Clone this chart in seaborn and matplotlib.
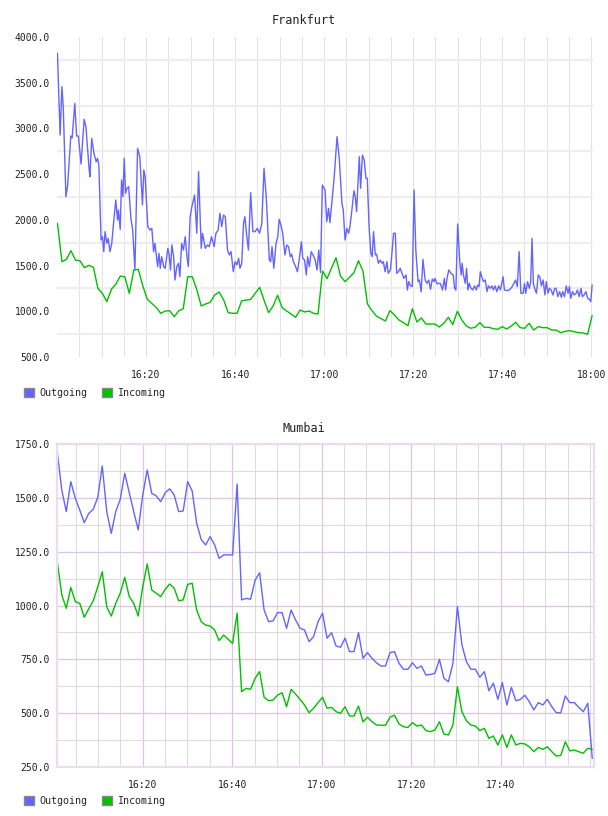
import matplotlib
matplotlib.use('Agg')
import matplotlib.pyplot as plt
import matplotlib.dates as mdates
from matplotlib.patches import Patch
from matplotlib.ticker import FormatStrFormatter
import pandas as pd
import seaborn as sns

# data
day = '2013-05-10 '

# Frankfurt outgoing: minutes after 16:00 and value
fra_out_min = [
    0.1, 0.7, 1.1, 1.4, 2.0, 2.4, 3.1, 3.4, 4.0, 4.4,
    4.8, 5.4, 6.1, 6.5, 7.2, 7.4, 7.8, 8.3, 8.8, 9.1,
    9.4, 9.9, 10.2, 10.5, 10.8, 11.2, 11.5, 11.9, 12.3, 12.7,
    13.2, 13.6, 13.8, 14.2, 14.5, 14.8, 15.1, 15.4, 15.7, 16.1,
    16.6, 17.0, 17.5, 18.1, 18.6, 19.2, 19.5, 19.8, 20.4, 20.9,
    21.3, 21.7, 22.0, 22.6, 22.9, 23.2, 23.5, 24.0, 24.3, 24.9,
    25.2, 25.5, 25.8, 26.2, 26.5, 26.9, 27.3, 27.6, 28.0, 28.4,
    28.8, 29.2, 29.5, 29.9, 30.3, 30.9, 31.4, 31.8, 32.4, 32.7,
    33.3, 33.8, 34.2, 34.7, 35.3, 35.7, 36.2, 36.6, 37.0, 37.4,
    37.8, 38.3, 38.7, 39.1, 39.6, 40.0, 40.4, 40.8, 41.1, 41.5,
    41.9, 42.2, 42.6, 43.0, 43.5, 44.0, 44.5, 45.0, 45.5, 46.0,
    46.5, 47.0, 47.4, 47.7, 48.0, 48.3, 48.7, 49.2, 49.6, 49.9,
    50.3, 50.7, 51.2, 51.6, 52.0, 52.4, 52.7, 53.1, 53.6, 54.0,
    54.4, 54.9, 55.2, 55.6, 56.0, 56.3, 56.7, 57.1, 57.6, 58.0,
    58.4, 58.8, 59.2, 59.6, 60.2, 60.6, 61.0, 61.3, 61.9, 62.3,
    62.9, 63.4, 64.0, 64.3, 64.7, 65.1, 65.5, 65.8, 66.2, 66.7,
    67.0, 67.3, 67.9, 68.2, 68.6, 69.0, 69.4, 69.7, 70.1, 70.5,
    70.8, 71.1, 71.5, 71.8, 72.2, 72.6, 73.0, 73.3, 73.7, 74.1,
    74.4, 74.9, 75.2, 75.6, 76.0, 76.3, 76.7, 77.1, 77.5, 77.9,
    78.4, 78.7, 79.0, 79.4, 79.8, 80.2, 80.6, 81.1, 81.4, 81.8,
    82.2, 82.7, 83.1, 83.5, 83.9, 84.3, 84.7, 84.9, 85.4, 85.8,
    86.1, 86.6, 87.0, 87.3, 87.6, 88.0, 88.5, 89.0, 89.3, 89.6,
    90.0, 90.5, 90.8, 91.0, 91.3, 91.7, 92.0, 92.3, 92.6, 93.0,
    93.4, 93.8, 94.2, 94.5, 94.8, 95.1, 95.4, 95.8, 96.2, 96.6,
    96.9, 97.3, 97.7, 98.0, 98.4, 98.8, 99.2, 99.6, 100.2, 100.5,
    101.1, 101.6, 102.1, 102.5, 103.0, 103.4, 103.8, 104.2, 104.7, 105.0,
    105.3, 105.7, 106.1, 106.4, 106.7, 107.0, 107.4, 107.7, 108.1, 108.5,
    108.8, 109.2, 109.6, 109.9, 110.3, 110.6, 111.0, 111.4, 111.8, 112.1,
    112.5, 112.9, 113.3, 113.6, 114.0, 114.4, 114.8, 115.1, 115.4, 115.8,
    116.2, 116.6, 116.9, 117.3, 117.7, 118.0, 118.4, 118.8, 119.2, 119.6,
    119.9, 120.2]
fra_out = [
    3822, 2928, 3457, 3238, 2253, 2381, 2917, 2896, 3274, 2917,
    2917, 2611, 3100, 3019, 2564, 2472, 2892, 2728, 2636, 2673,
    2600, 1780, 1816, 1652, 1871, 1743, 1796, 1652, 1743, 1962,
    2217, 1998, 2108, 1896, 2436, 2253, 2673, 2290, 2345, 2363,
    2017, 1889, 1452, 2783, 2691, 2163, 2545, 2472, 1925, 1889,
    1907, 1652, 1743, 1488, 1634, 1470, 1597, 1488, 1470, 1689,
    1616, 1452, 1725, 1597, 1342, 1488, 1525, 1378, 1743, 1670,
    1816, 1597, 1488, 2030, 2144, 2272, 1853, 2527, 1689, 1853,
    1689, 1725, 1707, 1816, 1707, 1853, 1889, 2072, 1925, 2053,
    2035, 1670, 1616, 1652, 1433, 1543, 1507, 1579, 1470, 1525,
    1962, 2035, 1834, 1670, 2297, 1871, 1871, 1907, 1853, 1962,
    2564, 2253, 1871, 1561, 1543, 1707, 1470, 1743, 1816, 2006,
    1944, 1853, 1616, 1725, 1707, 1597, 1625, 1543, 1488, 1433,
    1561, 1761, 1579, 1561, 1397, 1597, 1488, 1652, 1607, 1561,
    1452, 1670, 1425, 2381, 2327, 1980, 2126, 1969, 2272, 2491,
    2910, 2673, 2181, 2108, 1780, 1907, 1853, 1925, 2090, 2319,
    2254, 2090, 2691, 2345, 2709, 2655, 2454, 2454, 1925, 1634,
    1597, 1871, 1616, 1625, 1525, 1561, 1525, 1543, 1433, 1543,
    1415, 1452, 1616, 1853, 1853, 1415, 1433, 1470, 1415, 1360,
    1397, 1233, 1324, 1278, 1270, 2327, 1670, 1324, 1342, 1214,
    1568, 1342, 1306, 1342, 1240, 1353, 1324, 1360, 1298, 1306,
    1306, 1233, 1360, 1233, 1360, 1452, 1415, 1397, 1251, 1233,
    1955, 1525, 1397, 1525, 1397, 1306, 1470, 1233, 1306, 1251,
    1233, 1278, 1233, 1288, 1270, 1433, 1378, 1324, 1342, 1215,
    1278, 1251, 1278, 1233, 1278, 1215, 1278, 1233, 1378, 1233,
    1226, 1233, 1260, 1292, 1342, 1270, 1652, 1197, 1197, 1306,
    1197, 1324, 1251, 1324, 1798, 1306, 1233, 1197, 1397, 1370,
    1278, 1342, 1178, 1324, 1197, 1251, 1233, 1178, 1251, 1251,
    1160, 1215, 1153, 1215, 1160, 1278, 1197, 1270, 1142, 1215,
    1178, 1197, 1233, 1160, 1251, 1160, 1178, 1215, 1142, 1131,
    1105, 1288]

# Frankfurt incoming, one sample per minute
fra_in_first = '16:00:06'
fra_in_last = '18:00:12'
fra_in = [
    1962, 1542, 1568, 1663, 1560, 1553, 1477, 1503, 1481, 1251,
    1196, 1105, 1240, 1298, 1386, 1375, 1196, 1452, 1459, 1277,
    1131, 1087, 1040, 978, 1003, 1006, 941, 1006, 1028, 1378,
    1378, 1240, 1058, 1080, 1098, 1178, 1211, 1123, 985, 978,
    978, 1115, 1123, 1130, 1196, 1262, 1120, 985, 1058, 1175,
    1040, 1004, 970, 934, 1014, 993, 1003, 978, 970, 1440,
    1357, 1473, 1586, 1386, 1324, 1371, 1422, 1553, 1440, 1080,
    1007, 948, 920, 894, 1007, 960, 905, 876, 843, 1028,
    883, 927, 861, 861, 861, 828, 869, 934, 854, 1000,
    905, 839, 814, 826, 876, 825, 825, 810, 803, 832,
    806, 839, 880, 821, 814, 869, 795, 832, 821, 821,
    795, 795, 766, 781, 788, 777, 766, 763, 748, 953]

# Mumbai, one sample per minute for both series
mum_first = '16:00:55'
mum_last = '18:00:28'
mum_out = [
    1711, 1536, 1436, 1575, 1498, 1443, 1385, 1428, 1447, 1502,
    1648, 1436, 1335, 1436, 1493, 1614, 1524, 1436, 1351, 1513,
    1629, 1521, 1509, 1482, 1524, 1542, 1513, 1436, 1439, 1575,
    1532, 1382, 1307, 1281, 1320, 1281, 1219, 1235, 1235, 1235,
    1564, 1026, 1033, 1029, 1118, 1152, 979, 925, 929, 967,
    967, 894, 979, 933, 894, 886, 832, 855, 925, 964,
    848, 874, 812, 806, 848, 786, 786, 874, 755, 781,
    755, 734, 719, 719, 781, 786, 732, 704, 704, 734,
    708, 719, 677, 680, 685, 750, 662, 646, 732, 995,
    817, 739, 704, 704, 667, 693, 604, 639, 564, 642,
    538, 620, 558, 564, 583, 553, 515, 549, 538, 564,
    530, 502, 502, 580, 549, 549, 527, 507, 546, 290]
mum_in = [
    1203, 1049, 987, 1084, 1018, 1010, 945, 985, 1022, 1087,
    1157, 994, 951, 1010, 1057, 1131, 1041, 1010, 951, 1087,
    1193, 1072, 1057, 1041, 1075, 1100, 1080, 1022, 1026, 1098,
    1103, 979, 925, 909, 905, 886, 837, 863, 843, 824,
    965, 600, 615, 611, 662, 693, 574, 558, 561, 584,
    595, 530, 611, 589, 564, 538, 502, 523, 549, 574,
    523, 527, 507, 499, 530, 487, 487, 533, 460, 481,
    460, 445, 444, 444, 481, 491, 450, 437, 434, 456,
    440, 445, 419, 414, 422, 460, 403, 399, 445, 623,
    507, 465, 445, 440, 419, 430, 383, 394, 352, 399,
    341, 399, 352, 360, 357, 344, 321, 341, 332, 344,
    321, 301, 304, 367, 325, 329, 321, 314, 337, 332]

blue = '#6464ff'
green = '#00c000'
ink = '#222222'

# tabelas para o seaborn
t0 = pd.Timestamp(day + '16:00')
df_fra_out = pd.DataFrame({'time': t0 + pd.to_timedelta(fra_out_min, unit='min'), 'value': fra_out})
df_fra_in = pd.DataFrame({'time': pd.date_range(day + fra_in_first, day + fra_in_last, periods=len(fra_in)),
                          'value': fra_in})
mum_times = pd.date_range(day + mum_first, day + mum_last, periods=len(mum_out))
df_mum_out = pd.DataFrame({'time': mum_times, 'value': mum_out})
df_mum_in = pd.DataFrame({'time': mum_times, 'value': mum_in})

sns.set_style('white')
plt.rcParams['font.family'] = ['DejaVu Sans Mono']

fig = plt.figure(figsize=(6.08, 8.16), dpi=100)
ax1 = fig.add_axes([57 / 608, 1 - 357 / 816, 536 / 608, 320 / 816])
ax2 = fig.add_axes([57 / 608, 1 - 767 / 816, 537 / 608, 323 / 816])

# Frankfurt
sns.lineplot(data=df_fra_out, x='time', y='value', color=blue, lw=1, estimator=None, ax=ax1)
sns.lineplot(data=df_fra_in, x='time', y='value', color=green, lw=1, estimator=None, ax=ax1)
ax1.set_xlim(t0, t0 + pd.Timedelta(minutes=120.4))
ax1.set_ylim(500, 4000)
ax1.set_yticks(range(500, 4001, 500))
ax1.set_yticks(range(750, 4000, 500), minor=True)
ax1.set_xticks([t0 + pd.Timedelta(minutes=m) for m in (20, 40, 60, 80, 100, 120)])
ax1.set_xticks([t0 + pd.Timedelta(minutes=m) for m in range(5, 121, 5)], minor=True)
ax1.grid(False)
ax1.grid(True, which='minor', axis='y', color='#eeeeee', lw=1.6)
ax1.grid(True, which='both', axis='x', color='#e4e4e4', lw=0.8)
for s in ax1.spines.values():
    s.set_visible(False)

# Mumbai
sns.lineplot(data=df_mum_out, x='time', y='value', color=blue, lw=1, estimator=None, ax=ax2)
sns.lineplot(data=df_mum_in, x='time', y='value', color=green, lw=1, estimator=None, ax=ax2)
ax2.set_xlim(t0 + pd.Timedelta(minutes=0.85), t0 + pd.Timedelta(minutes=120.85))
ax2.set_ylim(250, 1750)
ax2.set_yticks(range(250, 1751, 250))
ax2.set_yticks(range(375, 1750, 250), minor=True)
ax2.set_xticks([t0 + pd.Timedelta(minutes=m) for m in (20, 40, 60, 80, 100)])
ax2.set_xticks([t0 + pd.Timedelta(minutes=m) for m in range(5, 121, 5)], minor=True)
ax2.grid(False)
ax2.grid(True, which='major', color='#dcc6e2', lw=0.9)
ax2.grid(True, which='minor', color='#dddddd', lw=0.8)
for s in ax2.spines.values():
    s.set_color('#ecdcf0')
    s.set_linewidth(1.6)

for ax in (ax1, ax2):
    ax.set_axisbelow(True)
    ax.set_xlabel('')
    ax.set_ylabel('')
    ax.xaxis.set_major_formatter(mdates.DateFormatter('%H:%M'))
    ax.xaxis.set_minor_formatter(plt.NullFormatter())
    ax.yaxis.set_major_formatter(FormatStrFormatter('%.1f'))
    ax.tick_params(which='both', length=0, labelsize=7, colors=ink)
    ax.tick_params(axis='y', pad=5)
    ax.tick_params(axis='x', pad=9)

fig.text(0.5, 1 - 20 / 816, 'Frankfurt', ha='center', va='center', fontsize=8.5, color=ink)
fig.text(0.5, 1 - 429 / 816, 'Mumbai', ha='center', va='center', fontsize=8.5, color=ink)

# legendas
for y in (393, 801):
    handles = [Patch(facecolor=blue, edgecolor='#888888', label='Outgoing'),
               Patch(facecolor=green, edgecolor='#888888', label='Incoming')]
    fig.legend(handles=handles, loc='center left', bbox_to_anchor=(24 / 608, 1 - y / 816),
               ncol=2, frameon=False, fontsize=7.2, handlelength=1.0, handleheight=1.0,
               handletextpad=0.5, columnspacing=1.5, borderpad=0, borderaxespad=0)

fig.savefig('out.png', dpi=100)
